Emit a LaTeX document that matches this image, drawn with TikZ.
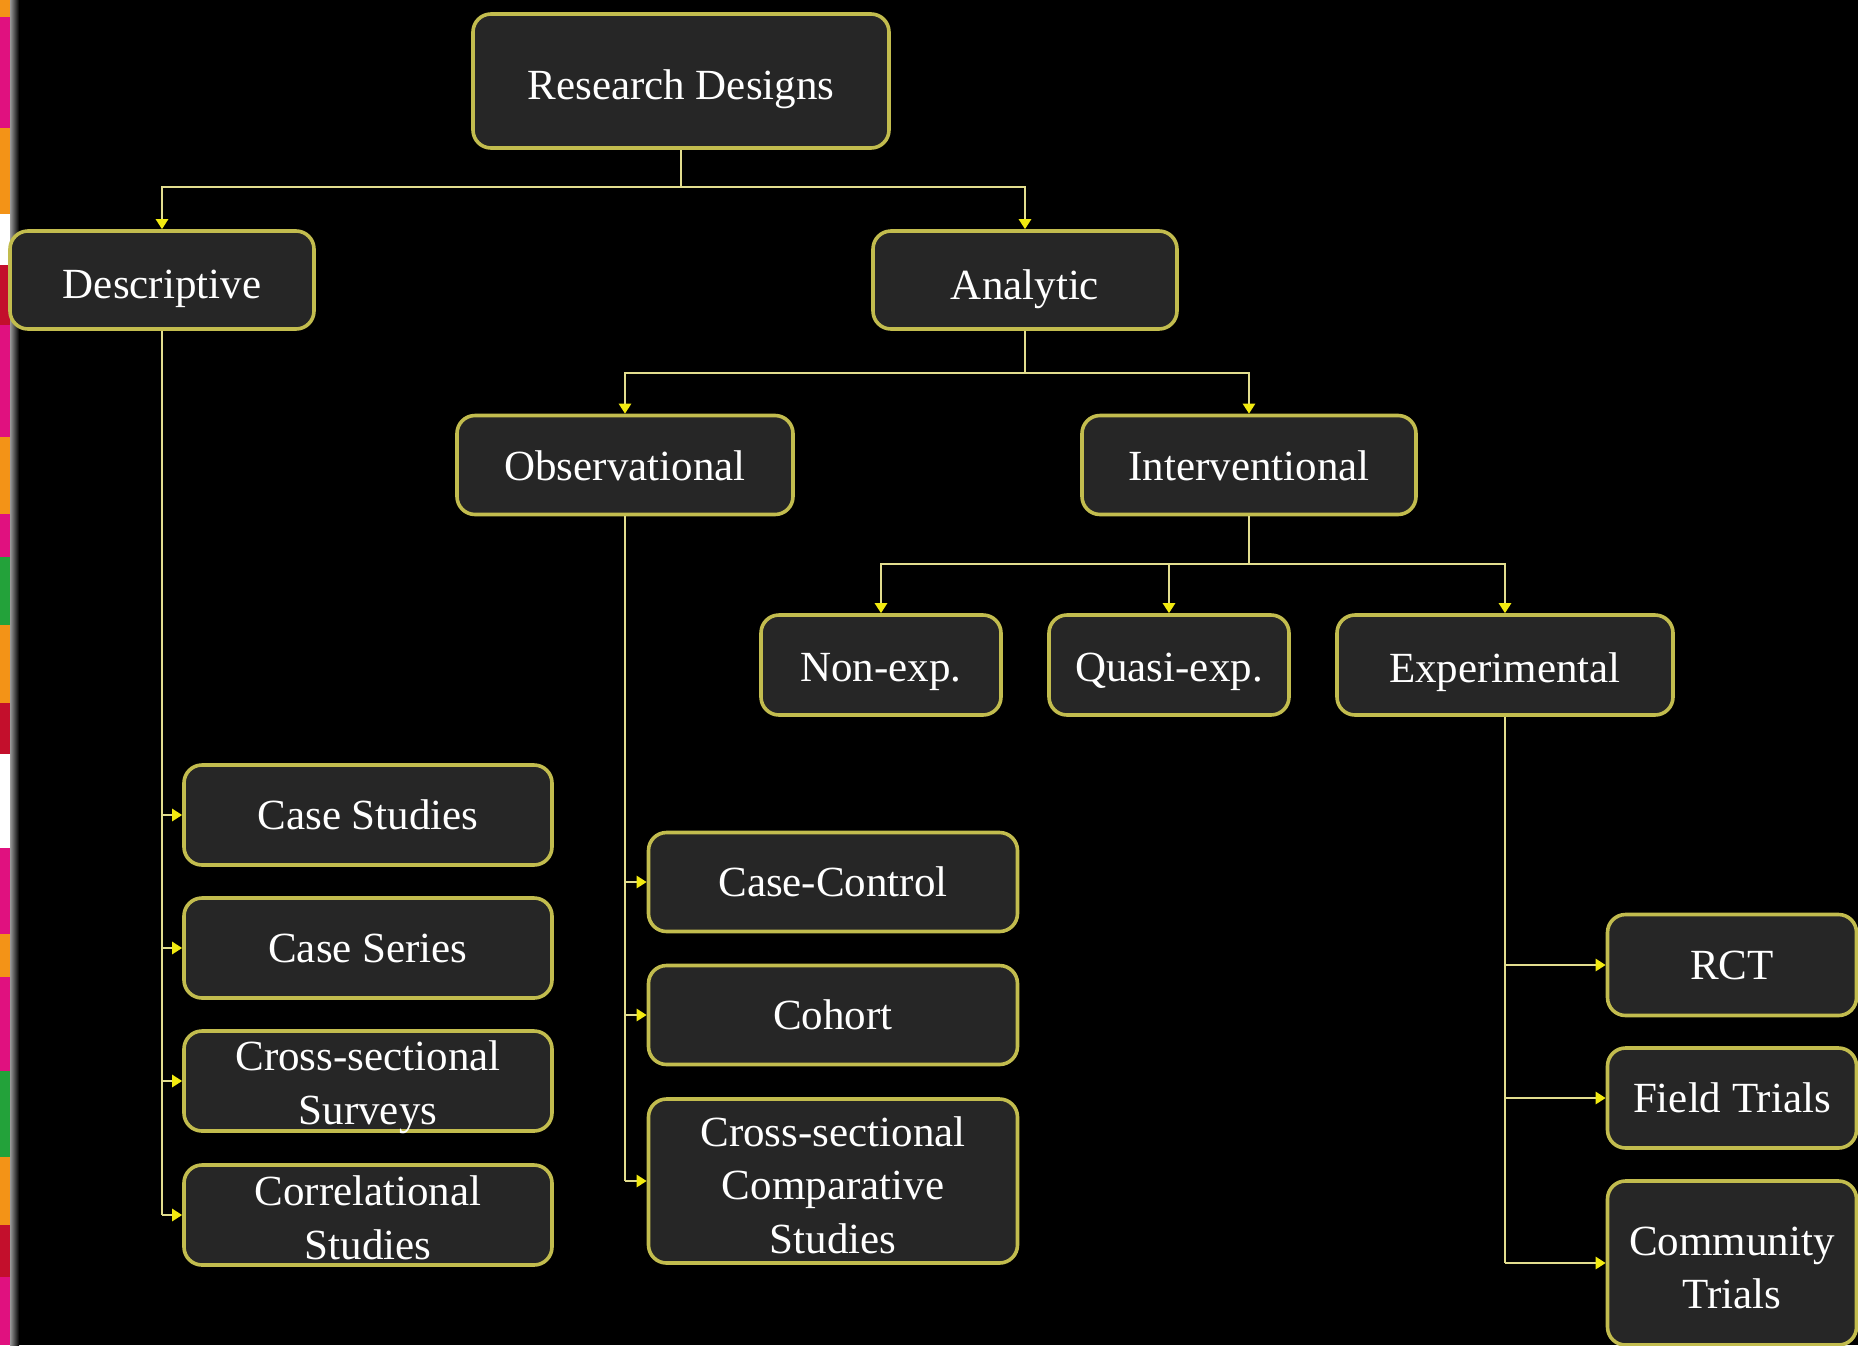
\documentclass[tikz,border=0pt]{standalone}
\usepackage{fontspec}
\newfontfamily\rdfont{Liberation Serif}
\usetikzlibrary{arrows.meta}
\definecolor{boxfill}{HTML}{262626}
\definecolor{boxborder}{HTML}{C2BC4E}
\definecolor{linecol}{HTML}{E2DD8E}
\definecolor{tipcol}{HTML}{F2EA10}
\definecolor{sorange}{HTML}{F39317}
\definecolor{smag}{HTML}{E0117F}
\definecolor{sred}{HTML}{C30F2C}
\definecolor{sgreen}{HTML}{23A23A}
\newcommand\lowtext[2]{\raisebox{-#1}[\height][\depth]{#2}}
\newcommand\lowlines[2]{\raisebox{-#1}[0pt][0pt]{\begin{tabular}{@{}c@{}}#2\end{tabular}}}
\tikzset{
  box/.style={draw=boxborder, line width=1.8pt, fill=boxfill, rounded corners=9pt,
    text=white, align=center, inner sep=0pt,
    font={\rdfont\fontsize{21.5pt}{26.7pt}\selectfont}},
  conn/.style={draw=linecol, line width=1.3pt},
  arr/.style={conn, -{Triangle[length=5pt,width=6pt,color=tipcol]}}
}
\begin{document}
\begin{tikzpicture}[x=0.5pt,y=-0.5pt]
\useasboundingbox (0,0) rectangle (1858,1345);
\clip (0,0) rectangle (1858,1345);
\fill[black] (0,0) rectangle (1858,1345);
% left colour strip
\foreach \a/\b/\c in {0/17/sorange,17/128/smag,128/214/sorange,214/265/white,265/325/sred,
  325/437/smag,437/514/sorange,514/557/smag,557/625/sgreen,625/703/sorange,703/754/sred,
  754/848/white,848/934/smag,934/977/sorange,977/1071/smag,1071/1157/sgreen,
  1157/1225/sorange,1225/1277/sred,1277/1345/smag}
  {\fill[\c] (0,\a) rectangle (10,\b);}
\shade[left color=gray!80, right color=black] (10,0) rectangle (19,1345);
% nodes
\node[box, minimum width=208pt, minimum height=67pt] (rd) at (681,81) {\lowtext{4pt}{Research Designs}};
\node[box, minimum width=152pt, minimum height=49pt] (desc) at (162,280) {\lowtext{4.5pt}{Descriptive}};
\node[box, minimum width=152pt, minimum height=49pt] (ana) at (1025,280) {\lowtext{4.5pt}{Analytic}};
\node[box, minimum width=168pt, minimum height=49.5pt] (obs) at (625,465) {\lowtext{0.5pt}{Observational}};
\node[box, minimum width=167pt, minimum height=49.5pt] (int) at (1249,465) {\lowtext{0.5pt}{Interventional}};
\node[box, minimum width=120pt, minimum height=50pt] (nonexp) at (881,665) {\lowtext{3.5pt}{Non-exp.}};
\node[box, minimum width=120pt, minimum height=50pt] (quasi) at (1169,665) {\lowtext{3.5pt}{Quasi-exp.}};
\node[box, minimum width=168pt, minimum height=50pt] (exp) at (1505,665) {\lowtext{3.5pt}{Experimental}};
\node[box, minimum width=184pt, minimum height=50pt] (cst) at (368,815) {Case Studies};
\node[box, minimum width=184pt, minimum height=50pt] (cse) at (368,948) {Case Series};
\node[box, minimum width=184pt, minimum height=50pt] (css) at (368,1081) {\lowlines{8pt}{Cross-sectional\\Surveys}};
\node[box, minimum width=184pt, minimum height=50pt] (cor) at (368,1215) {\lowlines{8.5pt}{Correlational\\Studies}};
\node[box, minimum width=184.5pt, minimum height=49.5pt] (cc) at (833,882) {Case-Control};
\node[box, minimum width=184.5pt, minimum height=49.5pt] (coh) at (833,1015) {Cohort};
\node[box, minimum width=184.5pt, minimum height=82pt] (ccs) at (833,1181) {\lowlines{9.2pt}{Cross-sectional\\Comparative\\Studies}};
\node[box, minimum width=124.5pt, minimum height=50.5pt] (rct) at (1732,965) {RCT};
\node[box, minimum width=124.5pt, minimum height=50pt] (ft) at (1732,1098) {Field Trials};
\node[box, minimum width=124.5pt, minimum height=82pt] (ct) at (1732,1263) {\lowlines{9.3pt}{Community\\Trials}};
% junctions
\coordinate (j1) at (681,187);
\coordinate (j2) at (1025,373);
\coordinate (j3) at (1249,564);
% top tree
\draw[conn] (rd.south) -- (j1);
\draw[arr] (j1) -| (desc.north);
\draw[arr] (j1) -| (ana.north);
\draw[conn] (ana.south) -- (j2);
\draw[arr] (j2) -| (obs.north);
\draw[arr] (j2) -| (int.north);
\draw[conn] (int.south) -- (j3);
\draw[arr] (j3) -| (nonexp.north);
\draw[arr] (j3) -| (quasi.north);
\draw[arr] (j3) -| (exp.north);
% descriptive list
\draw[conn] (desc.south) -- (desc.south |- cor.west);
\foreach \n in {cst,cse,css,cor} \draw[arr] (desc.south |- \n.west) -- (\n.west);
% observational list
\draw[conn] (obs.south) -- (obs.south |- ccs.west);
\foreach \n in {cc,coh,ccs} \draw[arr] (obs.south |- \n.west) -- (\n.west);
% experimental list
\draw[conn] (exp.south) -- (exp.south |- ct.west);
\foreach \n in {rct,ft,ct} \draw[arr] (exp.south |- \n.west) -- (\n.west);
\end{tikzpicture}
\end{document}
